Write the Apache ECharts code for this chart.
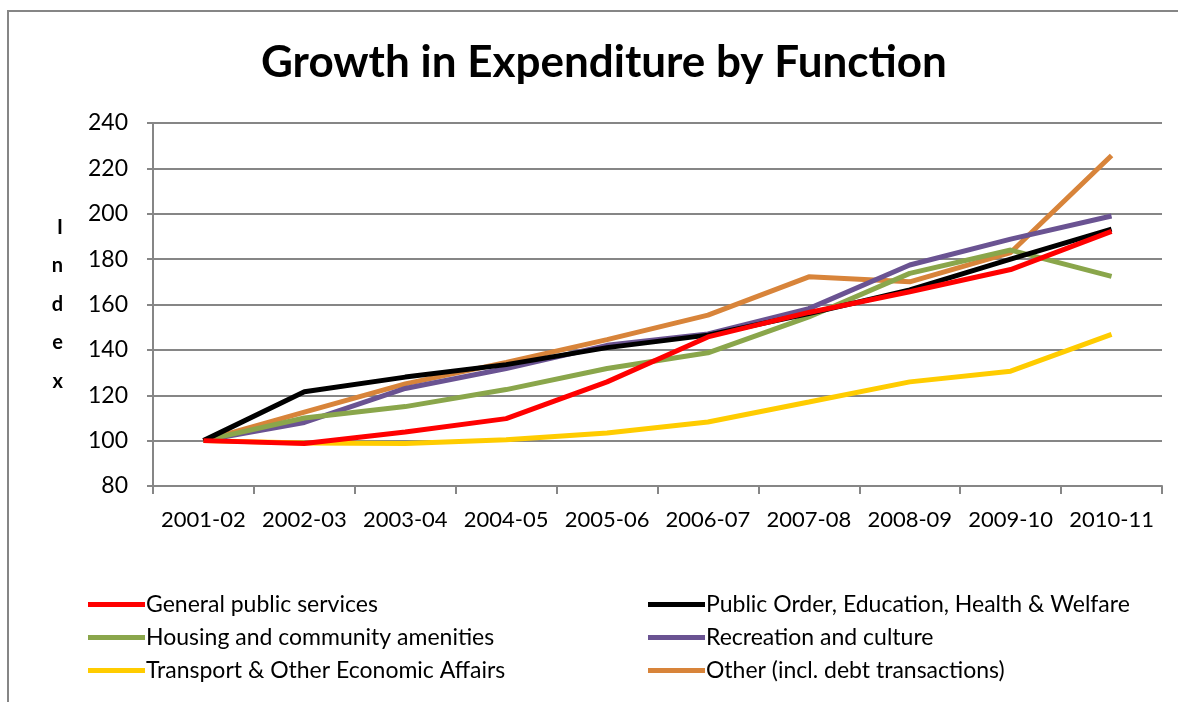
<!DOCTYPE html>
<html>
<head>
<meta charset="utf-8">
<script src="https://cdn.jsdelivr.net/npm/echarts@6/dist/echarts.min.js"></script>
<style>
  html, body { margin: 0; padding: 0; background: #fff; }
  #chart { width: 1178px; height: 702px; }
</style>
</head>
<body>
<div id="chart"></div>
<script>
  var years = ['2001-02', '2002-03', '2003-04', '2004-05', '2005-06', '2006-07', '2007-08', '2008-09', '2009-10', '2010-11']
  var generalPublic = [100, 98.7, 103.8, 109.7, 125.9, 145.7, 156.5, 165.6, 175.4, 192.2]
  var publicOrder = [100, 121.5, 128, 133.5, 141, 146.5, 156, 166.4, 180, 193.2]
  var housing = [100, 110, 115, 122.5, 131.8, 138.7, 154.5, 173.7, 184, 172.4]
  var recreation = [100, 108, 123, 131.8, 142, 147, 158.2, 177.4, 188.8, 199]
  var transport = [100, 99, 98.7, 100.4, 103.4, 108.2, 117, 125.9, 130.6, 146.8]
  var other = [100, 112.6, 125, 134.5, 144.5, 155.3, 172.2, 170, 182.9, 225.7]

  var names = [
    'General public services',
    'Public Order, Education, Health & Welfare',
    'Housing and community amenities',
    'Recreation and culture',
    'Transport & Other Economic Affairs',
    'Other (incl. debt transactions)'
  ]
  var colors = ['#ff0000', '#000000', '#8aa64b', '#6a5392', '#ffcc00', '#d8843a']
  var values = [generalPublic, publicOrder, housing, recreation, transport, other]

  var series = []
  for (var i = 0; i < names.length; i++) {
    series.push({
      name: names[i],
      type: 'line',
      data: values[i],
      symbol: 'none',
      lineStyle: { width: 5, color: colors[i] },
      itemStyle: { color: colors[i] },
      z: 10 - i
    })
  }

  var legendBase = {
    orient: 'vertical',
    icon: 'rect',
    itemWidth: 57,
    itemHeight: 5,
    itemGap: 10,
    textStyle: { fontFamily: 'Lato', fontSize: 23, color: '#000', padding: [0, 0, 0, -4] }
  }

  var myChart = echarts.init(document.getElementById('chart'))
  myChart.setOption({
    animation: false,
    color: colors,
    title: {
      text: 'Growth in Expenditure by Function',
      left: 256,
      top: 36,
      textStyle: { fontFamily: 'Lato', fontSize: 44, fontWeight: 'bold', color: '#000' }
    },
    legend: [
      Object.assign({}, legendBase, { left: 83, top: 588, data: [names[0], names[2], names[4]] }),
      Object.assign({}, legendBase, { left: 643, top: 588, data: [names[1], names[3], names[5]] })
    ],
    grid: { left: 153, right: 16, top: 123, bottom: 216 },
    xAxis: {
      type: 'category',
      data: years,
      boundaryGap: true,
      axisLine: { lineStyle: { color: '#868686', width: 2 } },
      axisTick: { show: true, interval: 0, length: 8, lineStyle: { color: '#868686', width: 2 } },
      axisLabel: { interval: 0, fontFamily: 'Lato', fontSize: 22, color: '#000', margin: 23 }
    },
    yAxis: {
      type: 'value',
      min: 80,
      max: 240,
      interval: 20,
      name: 'I\nn\nd\ne\nx',
      nameLocation: 'middle',
      nameRotate: 0,
      nameGap: 90,
      nameTextStyle: { fontFamily: 'Lato', fontSize: 20, fontWeight: 'bold', color: '#000', lineHeight: 38.5, padding: [8, 0, 0, 0] },
      axisLine: { show: true, lineStyle: { color: '#868686', width: 2 } },
      axisTick: { show: true, length: 6, lineStyle: { color: '#868686', width: 2 } },
      axisLabel: { fontFamily: 'Lato', fontSize: 23, color: '#000', margin: 25 },
      splitLine: { lineStyle: { color: '#868686', width: 2 } }
    },
    graphic: [{
      type: 'rect',
      shape: { x: 8, y: 11, width: 1200, height: 720 },
      style: { fill: 'none', stroke: '#868686', lineWidth: 2 },
      silent: true
    }],
    series: series
  })
</script>
</body>
</html>
